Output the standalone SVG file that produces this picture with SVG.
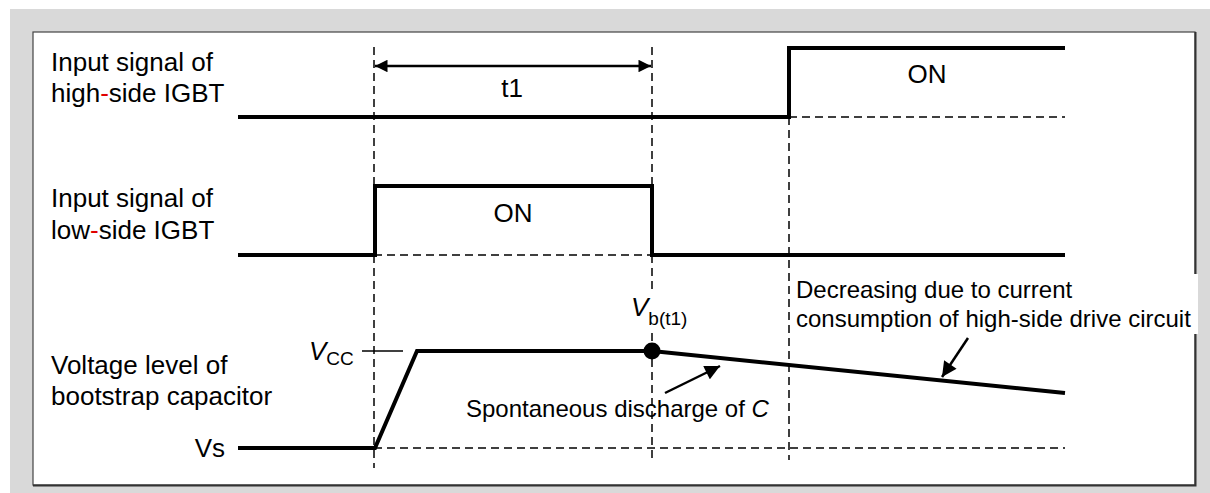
<svg xmlns="http://www.w3.org/2000/svg" width="1210" height="493" viewBox="0 0 1210 493">
<style>
text{font-family:"Liberation Sans",Arial,sans-serif;fill:#000}
.lbl{font-size:26px}
.ann{font-size:24px}
.sig{fill:none;stroke:#000;stroke-width:4;stroke-linejoin:miter}
.dash{fill:none;stroke:#000;stroke-width:1.5;stroke-dasharray:8 5}
.thin{fill:none;stroke:#000;stroke-width:1.5}
.arr{fill:none;stroke:#000;stroke-width:2.5}
</style>
<defs>
<marker id="ah" viewBox="0 0 10 10" refX="10" refY="5" markerWidth="6" markerHeight="5" orient="auto-start-reverse" markerUnits="strokeWidth">
<path d="M0,0 L10,5 L0,10 Z" fill="#000"/>
</marker>
<marker id="ah2" viewBox="0 0 10 10" refX="10" refY="5" markerWidth="6.5" markerHeight="6" orient="auto" markerUnits="strokeWidth">
<path d="M0,0 L10,5 L0,10 Z" fill="#000"/>
</marker>
</defs>
<rect x="0" y="0" width="1210" height="493" fill="#ffffff"/>
<rect x="10" y="9" width="1200" height="484" fill="#d9d9d9"/>
<rect x="33" y="32" width="1162" height="453" fill="#ffffff" stroke="#444" stroke-width="1.2"/>
<polyline points="1195.5,32 1195.5,485.5 33,485.5" fill="none" stroke="#333" stroke-width="2"/>

<g id="connectors">
<line class="dash" x1="374" y1="47" x2="374" y2="468"/>
<line class="dash" x1="652" y1="47" x2="652" y2="458"/>
<line class="dash" x1="789" y1="117" x2="789" y2="460"/>
<line class="dash" x1="789" y1="117" x2="1065" y2="117"/>
<line class="dash" x1="374" y1="255" x2="652" y2="255"/>
<line class="dash" x1="374" y1="448" x2="1065" y2="448"/>
<line x1="375" y1="66" x2="651" y2="66" stroke="#000" stroke-width="2.5" marker-start="url(#ah)" marker-end="url(#ah)"/>
<line class="arr" x1="665" y1="393" x2="720" y2="366" marker-end="url(#ah2)"/>
<line class="arr" x1="968" y1="338" x2="942" y2="377" marker-end="url(#ah2)"/>
</g>

<g id="high-side">
<text class="lbl" x="51" y="71">Input signal of</text>
<text class="lbl" x="51" y="102">high<tspan fill="#e00000">-</tspan>side IGBT</text>
<polyline class="sig" points="238,117 789,117 789,48 1065,48"/>
<text class="lbl" x="927" y="83" text-anchor="middle">ON</text>
<text class="lbl" x="512" y="97" text-anchor="middle">t1</text>
</g>

<g id="low-side">
<text class="lbl" x="51" y="207">Input signal of</text>
<text class="lbl" x="51" y="239">low<tspan fill="#e00000">-</tspan>side IGBT</text>
<polyline class="sig" points="238,255 375,255 375,186 652,186 652,255 1065,255"/>
<text class="lbl" x="513" y="222" text-anchor="middle">ON</text>
</g>

<g id="bootstrap">
<text class="lbl" x="51" y="374">Voltage level of</text>
<text class="lbl" x="51" y="405">bootstrap capacitor</text>
<text class="lbl" x="225" y="457" text-anchor="end">Vs</text>
<line class="thin" x1="362" y1="351" x2="403" y2="351"/>
<text class="lbl" x="309" y="360"><tspan font-style="italic">V</tspan><tspan font-size="19" dy="5">CC</tspan></text>
<polyline class="sig" points="238,448 375,448 417,351 652,351 1065,393"/>
<circle cx="652" cy="351" r="8.5" fill="#000"/>
<rect x="629" y="291" width="60" height="41" fill="#ffffff"/>
<text class="lbl" x="631" y="316"><tspan font-style="italic">V</tspan><tspan font-size="19" dy="9">b(t1)</tspan></text>
</g>

<g id="annotations">
<text class="ann" x="466" y="417">Spontaneous discharge of <tspan font-style="italic">C</tspan></text>
<rect x="794" y="274" width="404" height="60" fill="#ffffff"/>
<text class="ann" x="796" y="298">Decreasing due to current</text>
<text class="ann" x="796" y="327">consumption of high-side drive circuit</text>
</g>
</svg>
